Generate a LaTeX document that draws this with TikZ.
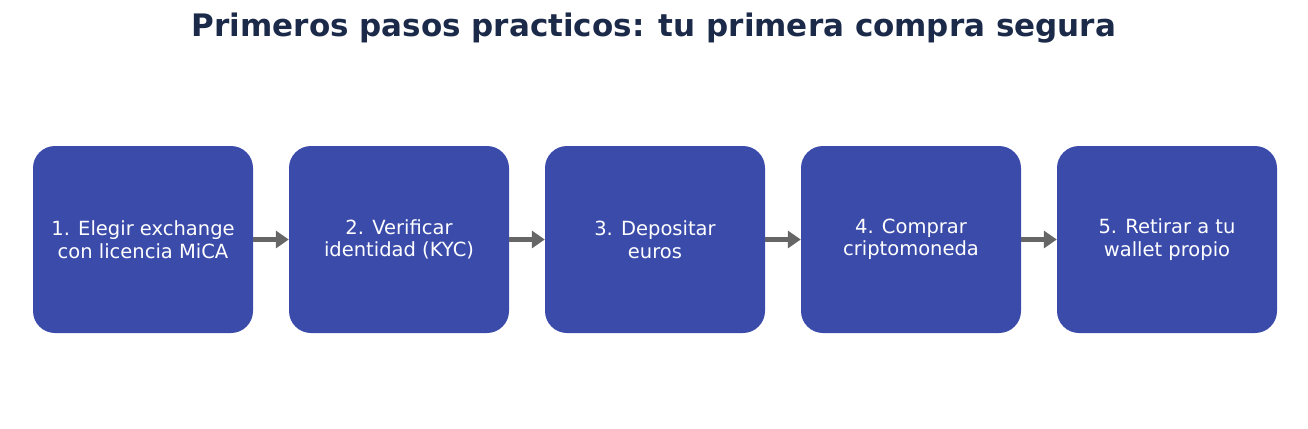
\documentclass[tikz,border=0pt]{standalone}
\usepackage{fontspec}
\setmainfont{DejaVu Sans}
\usetikzlibrary{arrows.meta}
\definecolor{boxblue}{HTML}{3B4BAA}
\definecolor{titlec}{HTML}{1C2A4A}
\definecolor{arrc}{HTML}{666666}
\begin{document}
\begin{tikzpicture}[x=1pt,y=-1pt,
  stepbox/.style={fill=boxblue,rounded corners=22pt,minimum width=220pt,minimum height=187pt,text=white,align=center,font=\fontsize{19.5}{22.5}\selectfont,inner sep=0pt},
  arr/.style={draw=arrc,line width=4.5pt,-{Triangle[length=13pt,width=17pt]}}]
\useasboundingbox (0,0) rectangle (1308,428);
\node[font=\bfseries\fontsize{31}{36}\selectfont,text=titlec] (t) at (654,28) {Primeros pasos practicos: tu primera compra segura};
\node[stepbox] (s1) at (143,239.5) {1. Elegir exchange\\con licencia MiCA};
\node[stepbox] (s2) at (399,239.5) {2. Verificar\\identidad (KYC)};
\node[stepbox] (s3) at (655,239.5) {3. Depositar\\euros};
\node[stepbox] (s4) at (911,239.5) {4. Comprar\\criptomoneda};
\node[stepbox] (s5) at (1167,239.5) {5. Retirar a tu\\wallet propio};
\foreach \a/\b in {s1/s2,s2/s3,s3/s4,s4/s5}
  \draw[arr] (\a.east) -- (\b.west);
\end{tikzpicture}
\end{document}
